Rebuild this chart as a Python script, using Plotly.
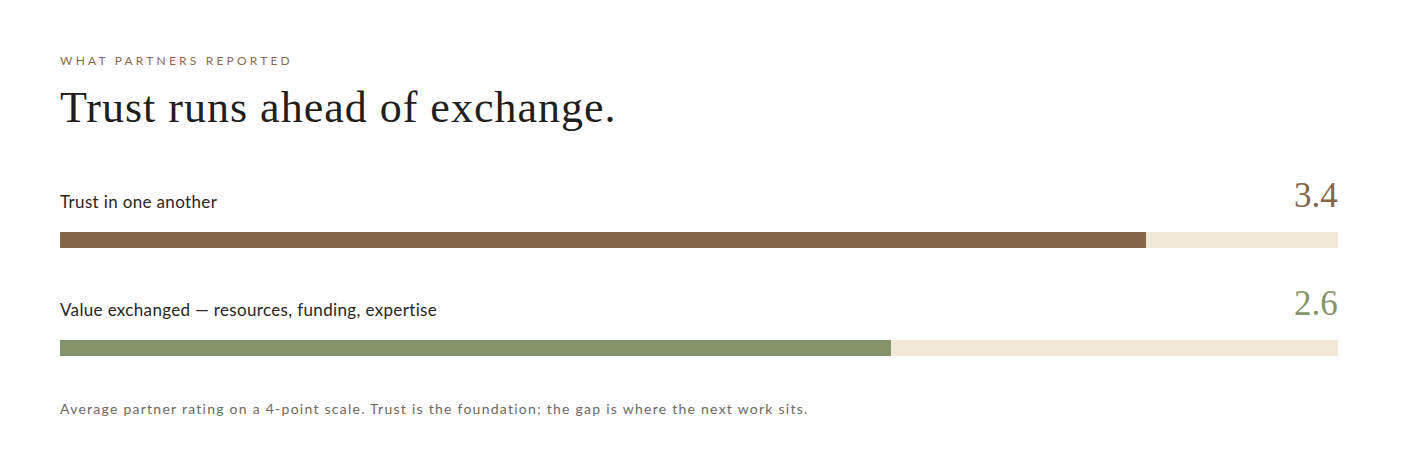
import plotly.graph_objects as go

# survey measures, average rating on a 4-point scale
measures = ["Trust in one another", "Value exchanged — resources, funding, expertise"]
ratings = [3.4, 2.6]
scale_max = 4
bar_colors = ["#85654a", "#84956a"]
track_color = "#f2e8da"

eyebrow = "WHAT PARTNERS REPORTED"
headline = "Trust runs ahead of exchange."
footnote = ("Average partner rating on a 4-point scale. Trust is the foundation; "
            "the gap is where the next work sits.")

W, H = 1402, 476
sans = "Lato, 'Open Sans', sans-serif"
serif = "'Liberation Serif', 'DejaVu Serif', serif"

fig = go.Figure()

# background track (full scale)
fig.add_trace(go.Bar(
    x=[scale_max] * len(measures),
    y=measures,
    orientation="h",
    marker=dict(color=track_color, line=dict(width=0)),
    width=0.148,
    hoverinfo="skip",
    showlegend=False,
))
# actual rating
fig.add_trace(go.Bar(
    x=ratings,
    y=measures,
    orientation="h",
    marker=dict(color=bar_colors, line=dict(width=0)),
    width=0.148,
    hovertemplate="%{y}: %{x}<extra></extra>",
    showlegend=False,
))

# row labels and values
for name, val, col in zip(measures, ratings, bar_colors):
    fig.add_annotation(
        x=0, y=name, xref="x", yref="y",
        text=f'<span style="letter-spacing:0.35px">{name}</span>',
        showarrow=False,
        xanchor="left", yanchor="middle", yshift=39, xshift=-2,
        font=dict(family=sans, size=17, color="#2a2623"),
    )
    fig.add_annotation(
        x=scale_max, y=name, xref="x", yref="y",
        text=f"{val:.1f}", showarrow=False,
        xanchor="right", yanchor="middle", yshift=45, xshift=2,
        font=dict(family=serif, size=35, color=col),
    )


def py(px):
    return 1 - px / H


fig.add_annotation(
    x=0, y=py(61), xref="x", yref="paper",
    text=f'<span style="letter-spacing:3.2px">{eyebrow}</span>',
    showarrow=False, xanchor="left", yanchor="middle", xshift=-2,
    font=dict(family=sans, size=12, color="#8a6a50"),
)
fig.add_annotation(
    x=0, y=py(108), xref="x", yref="paper",
    text=f'<span style="letter-spacing:1px">{headline}</span>',
    showarrow=False, xanchor="left", yanchor="middle",
    xshift=-2,
    font=dict(family=serif, size=44, color="#211e1c"),
)
fig.add_annotation(
    x=0, y=py(408), xref="x", yref="paper",
    text=f'<span style="letter-spacing:1.25px">{footnote}</span>',
    showarrow=False, xanchor="left", yanchor="middle", xshift=-2,
    font=dict(family=sans, size=14, color="#6e6863"),
)

fig.update_layout(
    width=W, height=H,
    barmode="overlay",
    bargap=0,
    margin=dict(l=60, r=64, t=0, b=0),
    paper_bgcolor="white",
    plot_bgcolor="white",
    xaxis=dict(range=[0, scale_max], visible=False, fixedrange=True),
    yaxis=dict(range=[2.185, -2.222], visible=False, fixedrange=True),
)

# drop the default body margin so the figure sits flush with the window
fig.write_html("out.html", config={"displayModeBar": False},
               post_script="document.body.style.margin='0';")
